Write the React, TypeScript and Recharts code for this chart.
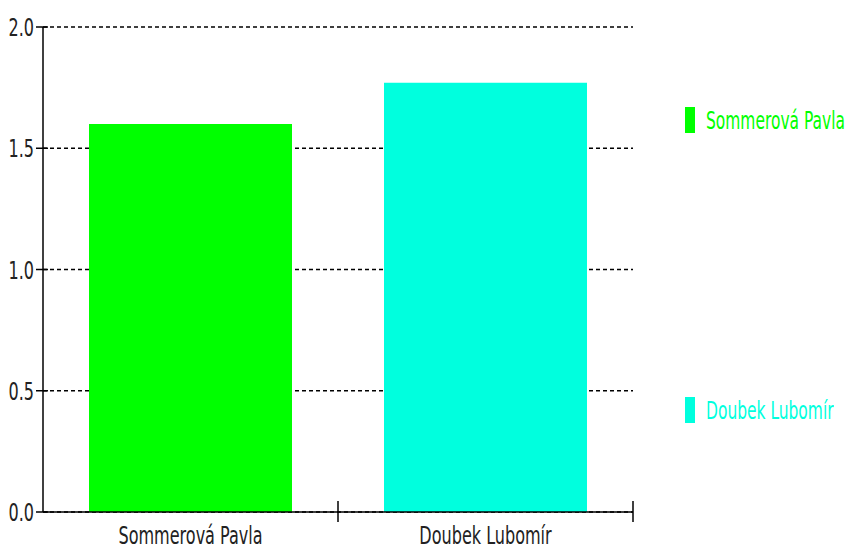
import { BarChart, Bar, Cell, XAxis, YAxis, CartesianGrid } from 'recharts';

const categories = ['Sommerová Pavla', 'Doubek Lubomír'];
const values = [1.6, 1.77];
const colors = ['#00FF00', '#00FFDE'];
const yTicks = [0, 0.5, 1, 1.5, 2];

const W = 850;
const H = 551;
const margin = { top: 27, right: 217, bottom: 0, left: 0 };
const yAxisWidth = 43;
const xAxisHeight = 39;
const plotLeft = margin.left + yAxisWidth;
const plotRight = W - margin.right;
const plotBottom = H - margin.bottom - xAxisHeight;
const band = (plotRight - plotLeft) / categories.length;

const font = '"Liberation Sans Narrow", "DejaVu Sans Condensed", "Liberation Sans", sans-serif';
const fontSize = 21.5;
const sx = 0.83;
const sy = 1.18;

const data = categories.map((name, i) => ({ name, value: values[i] }));

function YTick(props) {
    const { y, payload } = props;
    return (
        <g>
            <line x1={plotLeft - 7} x2={plotLeft + 5} y1={y} y2={y} stroke="#000" strokeWidth={1.5} />
            <text
                transform={`translate(${plotLeft - 9},${y + 9}) scale(${sx},${sy})`}
                textAnchor="end"
                fontFamily={font}
                fontSize={fontSize}
                fill="#222"
            >
                {payload.value.toFixed(1)}
            </text>
        </g>
    );
}

function XTick(props) {
    const { x, payload, index } = props;
    const left = x - band / 2;
    const right = x + band / 2;
    return (
        <g>
            {index > 0 && (
                <line x1={left} x2={left} y1={plotBottom - 11} y2={plotBottom + 10} stroke="#000" strokeWidth={1.5} />
            )}
            {index === categories.length - 1 && (
                <line x1={right} x2={right} y1={plotBottom - 11} y2={plotBottom + 10} stroke="#000" strokeWidth={1.5} />
            )}
            <text
                transform={`translate(${x},${plotBottom + 32}) scale(${sx},${sy})`}
                textAnchor="middle"
                fontFamily={font}
                fontSize={fontSize}
                fill="#222"
            >
                {payload.value}
            </text>
        </g>
    );
}

export default function App() {
    return (
        <div style={{ position: 'relative', width: W, height: H, background: '#fff' }}>
            <style>{`body{margin:0}`}</style>
            <BarChart width={W} height={H} data={data} margin={margin} barCategoryGap={46}>
                <CartesianGrid vertical={false} stroke="#000" strokeWidth={1.5} strokeDasharray="4 3" />
                <XAxis
                    dataKey="name"
                    height={xAxisHeight}
                    axisLine={{ stroke: '#000', strokeWidth: 1.5 }}
                    tickLine={false}
                    tick={<XTick />}
                    interval={0}
                />
                <YAxis
                    width={yAxisWidth}
                    domain={[0, 2]}
                    ticks={yTicks}
                    axisLine={{ stroke: '#000', strokeWidth: 1.5 }}
                    tickLine={false}
                    tick={<YTick />}
                />
                <Bar dataKey="value" isAnimationActive={false}>
                    {data.map((d, i) => (
                        <Cell key={d.name} fill={colors[i]} />
                    ))}
                </Bar>
            </BarChart>
            {categories.map((name, i) => (
                <div
                    key={name}
                    style={{
                        position: 'absolute',
                        left: 685,
                        top: 107 + i * 290,
                        display: 'flex',
                        alignItems: 'center',
                        height: 26,
                    }}
                >
                    <div style={{ width: 10, height: 26, background: colors[i] }} />
                    <span
                        style={{
                            marginLeft: 11,
                            color: colors[i],
                            fontFamily: font,
                            fontSize: fontSize,
                            display: 'inline-block',
                            transform: `scale(0.8,${sy})`,
                            transformOrigin: 'left center',
                            whiteSpace: 'nowrap',
                        }}
                    >
                        {name}
                    </span>
                </div>
            ))}
        </div>
    );
}
